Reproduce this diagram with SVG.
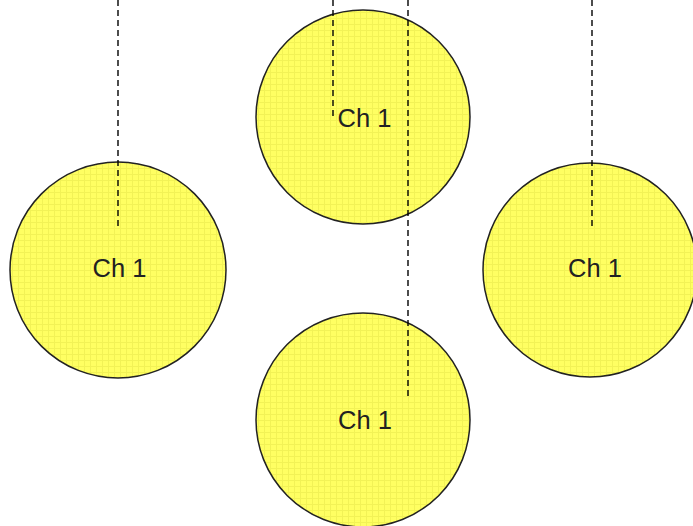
<svg xmlns="http://www.w3.org/2000/svg" width="693" height="526" viewBox="0 0 693 526">
<style>
.node{fill:url(#grid);stroke:#222;stroke-width:1.5}
.lbl{font-family:"Liberation Sans",Arial,sans-serif;font-size:25.5px;fill:#222;text-anchor:middle}
.conn{stroke:#000;stroke-width:1.4;stroke-dasharray:6 4;fill:none}
</style>
<defs>
<pattern id="grid" width="6" height="6" patternUnits="userSpaceOnUse">
<rect width="6" height="6" fill="#ffff62"/>
<path d="M0 0.5H6M0.5 0V6" stroke="#f2f256" stroke-width="1"/>
</pattern>
</defs>
<rect width="693" height="526" fill="#fff"/>
<g id="n-left"><circle class="node" cx="118" cy="270" r="108"/><text class="lbl" x="119.5" y="277">Ch 1</text></g>
<g id="n-top"><circle class="node" cx="363" cy="117" r="107"/><text class="lbl" x="364.5" y="127">Ch 1</text></g>
<g id="n-right"><circle class="node" cx="590" cy="270" r="107"/><text class="lbl" x="595" y="277">Ch 1</text></g>
<g id="n-bottom"><circle class="node" cx="363" cy="420" r="107"/><text class="lbl" x="365" y="429">Ch 1</text></g>
<g id="connectors">
<line class="conn" x1="118" y1="0" x2="118" y2="228"/>
<line class="conn" x1="333" y1="0" x2="333" y2="118"/>
<line class="conn" x1="408" y1="0" x2="408" y2="400"/>
<line class="conn" x1="592" y1="0" x2="592" y2="228"/>
</g>
</svg>
